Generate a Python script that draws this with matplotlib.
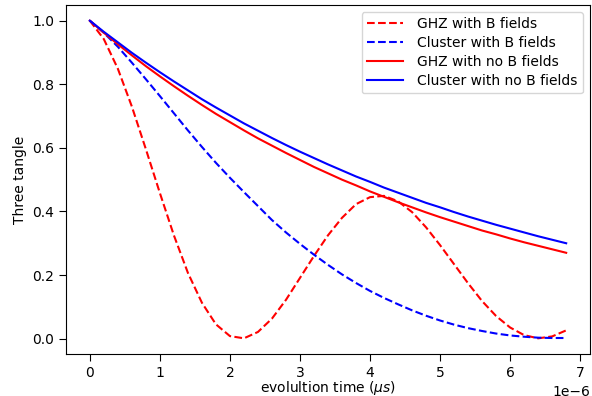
import numpy as np
import matplotlib
matplotlib.use("Agg")
import matplotlib.pyplot as plt

# time samples in microseconds
time_us = [0.0, 0.2, 0.4, 0.6, 0.8, 1.0, 1.2, 1.4, 1.6, 1.8,
           2.0, 2.2, 2.4, 2.6, 2.8, 3.0, 3.2, 3.4, 3.6, 3.8,
           4.0, 4.2, 4.4, 4.6, 4.8, 5.0, 5.2, 5.4, 5.6, 5.8,
           6.0, 6.2, 6.4, 6.6, 6.8]

ghz_b = [1.0, 0.942, 0.849, 0.730, 0.596, 0.458, 0.325, 0.207, 0.113, 0.045,
         0.008, 0.001, 0.021, 0.063, 0.122, 0.191, 0.260, 0.325, 0.380, 0.423,
         0.445, 0.449, 0.432, 0.398, 0.350, 0.294, 0.234, 0.174, 0.118, 0.071,
         0.035, 0.011, 0.001, 0.007, 0.026]

cluster_b = [1.0, 0.962, 0.918, 0.868, 0.816, 0.763, 0.709, 0.655, 0.603, 0.553,
             0.506, 0.461, 0.417, 0.373, 0.334, 0.298, 0.264, 0.232, 0.202, 0.175,
             0.150, 0.128, 0.108, 0.089, 0.072, 0.057, 0.044, 0.033, 0.024, 0.016,
             0.010, 0.006, 0.003, 0.002, 0.002]

ghz_nob = [1.0, 0.962, 0.926, 0.891, 0.857, 0.825, 0.794, 0.764, 0.735, 0.707,
           0.681, 0.655, 0.630, 0.607, 0.584, 0.562, 0.540, 0.520, 0.500, 0.482,
           0.463, 0.446, 0.429, 0.413, 0.397, 0.382, 0.368, 0.354, 0.340, 0.328,
           0.315, 0.303, 0.292, 0.281, 0.270]

cluster_nob = [1.0, 0.965, 0.932, 0.899, 0.868, 0.838, 0.809, 0.781, 0.753, 0.727,
               0.702, 0.677, 0.654, 0.631, 0.609, 0.588, 0.568, 0.548, 0.529, 0.510,
               0.493, 0.475, 0.459, 0.443, 0.427, 0.413, 0.398, 0.384, 0.371, 0.358,
               0.346, 0.334, 0.322, 0.311, 0.300]

t = np.array(time_us) * 1e-6

fig = plt.figure(figsize=(5.92, 3.96), dpi=100)
ax = fig.add_axes([66 / 592, (396 - 354.2) / 396, 524 / 592, 349.4 / 396])

ax.plot(t, ghz_b, 'r--', label='GHZ with B fields')
ax.plot(t, cluster_b, 'b--', label='Cluster with B fields')
ax.plot(t, ghz_nob, 'r-', label='GHZ with no B fields')
ax.plot(t, cluster_nob, 'b-', label='Cluster with no B fields')

ax.tick_params(length=4.8)
ax.xaxis.OFFSETTEXTPAD = 4.0
ax.set_xlabel(r'evolultion time ($\mu s$)')
ax.xaxis.set_label_coords(0.5, -0.071)
ax.set_ylabel('Three tangle')
ax.legend(loc='upper right', handlelength=2.6, handletextpad=1.0,
          labelspacing=0.35)

fig.savefig('out.png', dpi=100)
